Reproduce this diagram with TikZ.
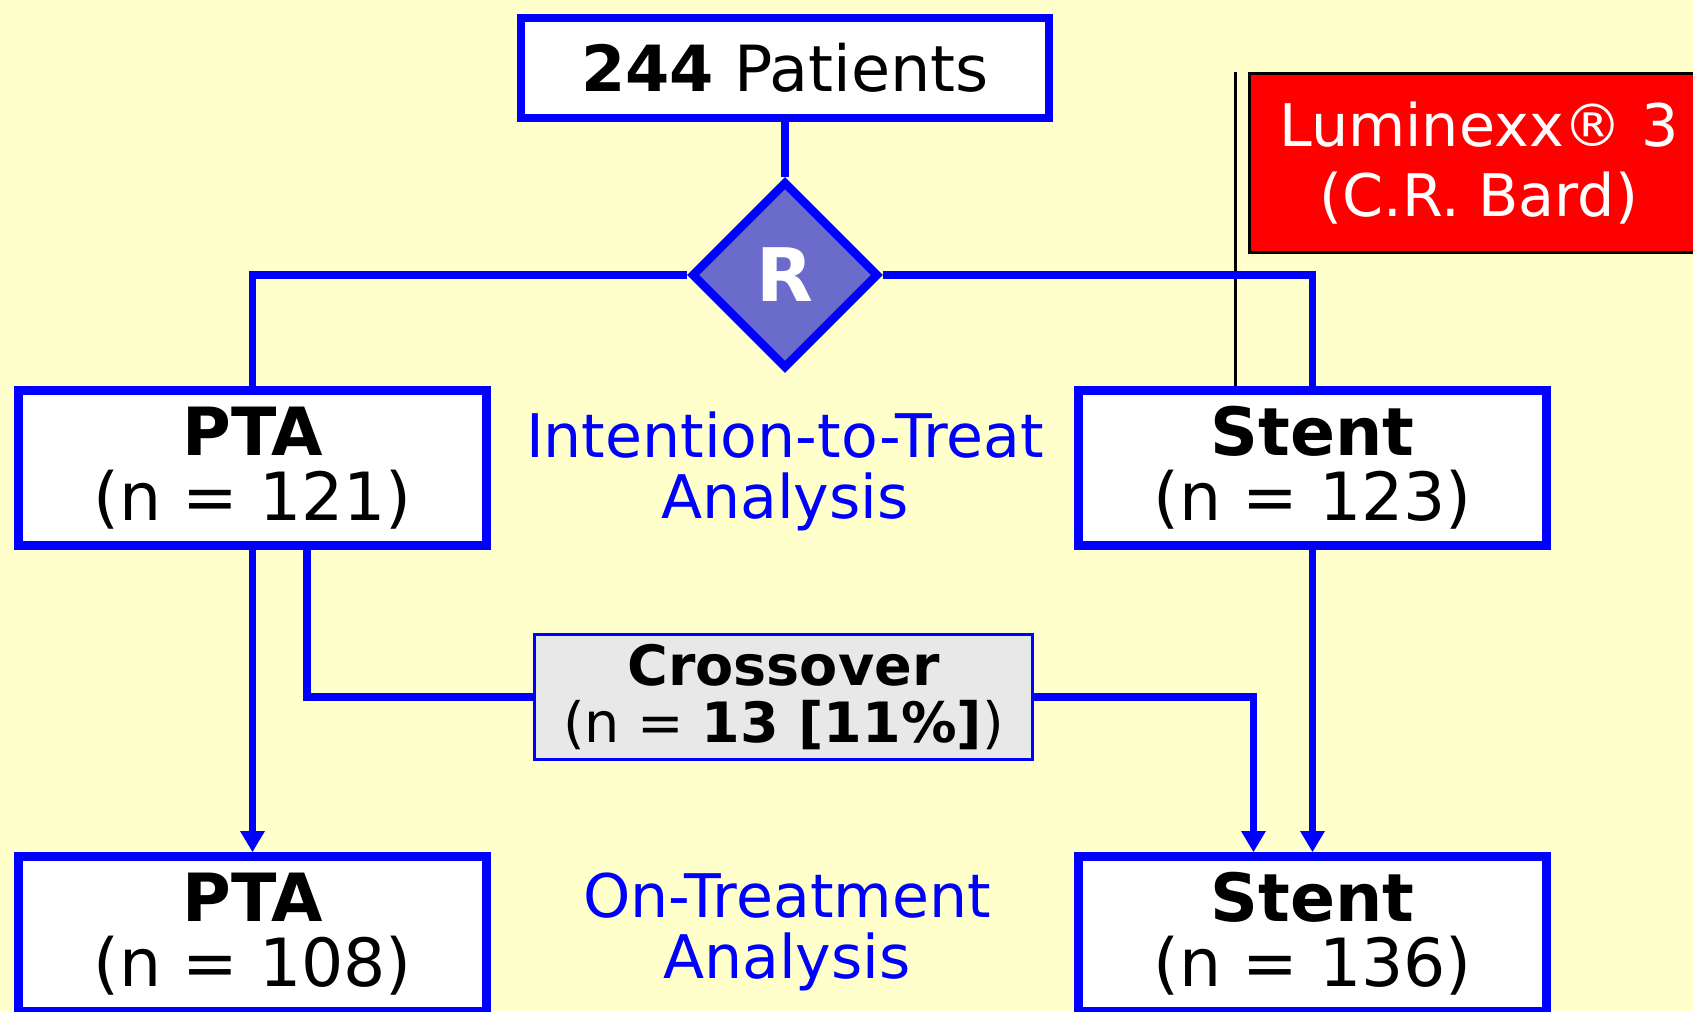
\documentclass[tikz,border=0pt]{standalone}
\usepackage{fontspec}
\setmainfont{DejaVu Sans}
\usetikzlibrary{shapes.geometric}
\usetikzlibrary{arrows.meta}
\tikzset{>={Triangle[length=6pt,width=6.6pt]}}
\definecolor{bgcol}{HTML}{FFFFCC}
\definecolor{armcol}{HTML}{0000FF}
\definecolor{randcol}{HTML}{6B6BCC}
\definecolor{crosscol}{HTML}{E8E8E8}
\definecolor{devcol}{HTML}{FF0000}
\tikzstyle{arm}=[draw=armcol,line width=2.4pt,fill=white,inner sep=0,align=center,
  minimum width=4.68cm,minimum height=1.55cm,font=\fontsize{18.9}{18.5}\selectfont]
\tikzstyle{total}=[arm,minimum width=5.28cm,minimum height=1.0cm,font=\fontsize{18.1}{18}\selectfont]
\tikzstyle{rand}=[diamond,aspect=1,draw=armcol,line width=2.4pt,fill=randcol,inner sep=0,
  minimum width=1.87cm,minimum height=1.87cm,text=white,font=\fontsize{21}{21}\selectfont\bfseries]
\tikzstyle{cross}=[draw=armcol,line width=0.85pt,fill=crosscol,inner sep=0,align=center,
  minimum width=4.97cm,minimum height=1.24cm,font=\fontsize{15.8}{16}\selectfont]
\tikzstyle{device}=[draw=black,line width=0.85pt,fill=devcol,text=white,inner sep=0,align=center,
  minimum width=4.58cm,minimum height=1.79cm,font=\fontsize{16.7}{20}\selectfont]
\tikzstyle{analysis}=[text=armcol,align=center,inner sep=0,font=\fontsize{17.1}{17.4}\selectfont]
\tikzstyle{link}=[armcol,line width=2.1pt]
\tikzstyle{callout}=[black,line width=0.85pt]

\begin{document}
\begin{tikzpicture}[x=0.01cm,y=-0.01cm]
  
  \useasboundingbox (0,0) rectangle (1693,1011);
  \clip (0,0) rectangle (1693,1011);
  \fill[bgcol] (0,0) rectangle (1693,1011);
  
  % BOXES
  \node[total] (pat) at (785,68) {\textbf{244} Patients};
  \node[rand] (R) at (785,275) {R};
  \node[arm] (pta) at (252.5,468) {\textbf{PTA}\\(n = 121)};
  \node[arm] (stent) at (1312.5,468) {\textbf{Stent}\\(n = 123)};
  \node[arm] (ptaot) at (252.5,934) {\textbf{PTA}\\(n = 108)};
  \node[arm] (stentot) at (1312.5,934) {\textbf{Stent}\\(n = 136)};
  \node[cross] (cross) at (783.5,697) {\textbf{Crossover}\\(n = \textbf{13 [11\%]})};
  
  % LABELS
  \node[analysis] (itt) at (785,471) {Intention-to-Treat\\Analysis};
  \node[analysis] (ot) at (787,932) {On-Treatment\\Analysis};
  
  % DEVICE
  \coordinate (dev) at (1235,72);
  \node[device] (lum) at (1479,163) {Luminexx® 3\\(C.R. Bard)};
  \draw[callout] (dev) -- (dev |- stent.north);
  
  % CONNECTORS
  \draw[link] (pat) -- (R);
  \draw[link] (R.west) -| (pta.north);
  \draw[link] (R.east) -| (stent.north);
  \draw[link,->] (pta) -- (ptaot);
  \draw[link,->] (stent) -- (stentot);
  \draw[link] ([xshift=0.545cm]pta.south) |- (cross.west);
  \draw[link,->] (cross.east) -| ([xshift=-0.59cm]stentot.north);
  
\end{tikzpicture}
\end{document}
